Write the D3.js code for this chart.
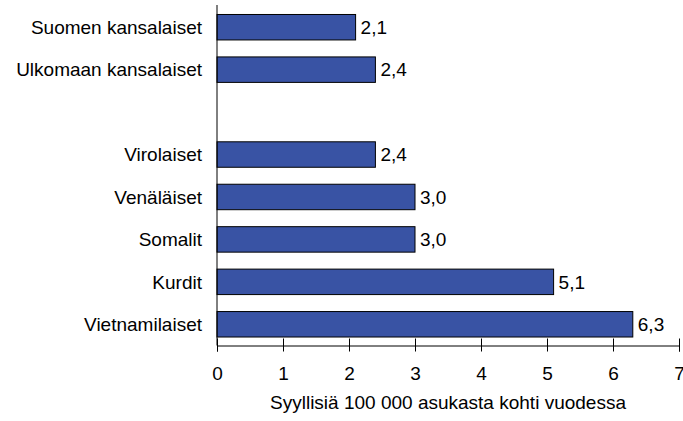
<!DOCTYPE html>
<html>
<head>
<meta charset="utf-8">
<script src="https://cdn.jsdelivr.net/npm/d3@7"></script>
<style>
  body { margin: 0; background: #fff; }
  text { font-family: "Liberation Sans", Arial, sans-serif; fill: #000; }
</style>
</head>
<body>
<script>
// chart data
const categories = ["Suomen kansalaiset", "Ulkomaan kansalaiset", " ", "Virolaiset", "Venäläiset", "Somalit", "Kurdit", "Vietnamilaiset"];
const values = [2.1, 2.4, null, 2.4, 3.0, 3.0, 5.1, 6.3];
const xTicks = [0, 1, 2, 3, 4, 5, 6, 7];
const axisTitle = "Syyllisiä 100 000 asukasta kohti vuodessa";

const w = 683, h = 421;
const padLeft = 217, padRight = 679, padTop = 6, axisY = 345.5;
const fs = 19;

const svg = d3.select("body").append("svg")
  .attr("width", w)
  .attr("height", h);

const xScale = d3.scaleLinear().domain([0, 7]).range([padLeft, padRight]);
const yScale = d3.scaleBand()
  .domain(categories)
  .range([padTop, axisY])
  .paddingInner(0.4)
  .paddingOuter(0.2);

const rows = categories.map((c, i) => ({ name: c, value: values[i] }));
const bars = rows.filter(d => d.value != null);

svg.selectAll("rect.bar")
  .data(bars)
  .enter()
  .append("rect")
  .attr("class", "bar")
  .attr("x", xScale(0))
  .attr("y", d => yScale(d.name))
  .attr("width", d => xScale(d.value) - xScale(0))
  .attr("height", yScale.bandwidth())
  .attr("fill", "#3953a4")
  .attr("stroke", "#000")
  .attr("stroke-width", 1);

// value labels
svg.selectAll("text.val")
  .data(bars)
  .enter()
  .append("text")
  .attr("class", "val")
  .attr("x", d => xScale(d.value) + 5)
  .attr("y", d => yScale(d.name) + yScale.bandwidth() / 2)
  .attr("dy", "0.36em")
  .attr("font-size", fs)
  .text(d => d3.format(".1f")(d.value).replace(".", ","));

// category labels
svg.selectAll("text.cat")
  .data(rows)
  .enter()
  .append("text")
  .attr("class", "cat")
  .attr("x", padLeft - 15)
  .attr("y", d => yScale(d.name) + yScale.bandwidth() / 2)
  .attr("dy", "0.36em")
  .attr("text-anchor", "end")
  .attr("font-size", fs)
  .text(d => d.name.trim());

// y axis line
svg.append("line")
  .attr("x1", xScale(0)).attr("x2", xScale(0))
  .attr("y1", 5).attr("y2", axisY)
  .attr("stroke", "#000");

// x axis
const xAxis = d3.axisBottom(xScale)
  .tickValues(xTicks)
  .tickFormat(d3.format("d"))
  .tickSizeOuter(0)
  .tickSize(6)
  .tickPadding(15.5);
const gx = svg.append("g")
  .attr("transform", "translate(0," + axisY + ")")
  .call(xAxis);
gx.selectAll(".tick line").attr("y1", -7).attr("y2", 6);
gx.selectAll(".tick text")
  .attr("font-size", fs)
  .attr("font-family", "Liberation Sans, Arial, sans-serif")
  .attr("fill", "#000");
gx.select(".domain").attr("stroke", "#000");

svg.append("text")
  .attr("x", (padLeft + padRight) / 2)
  .attr("y", 408.5)
  .attr("text-anchor", "middle")
  .attr("font-size", fs)
  .text(axisTitle);
</script>
</body>
</html>
